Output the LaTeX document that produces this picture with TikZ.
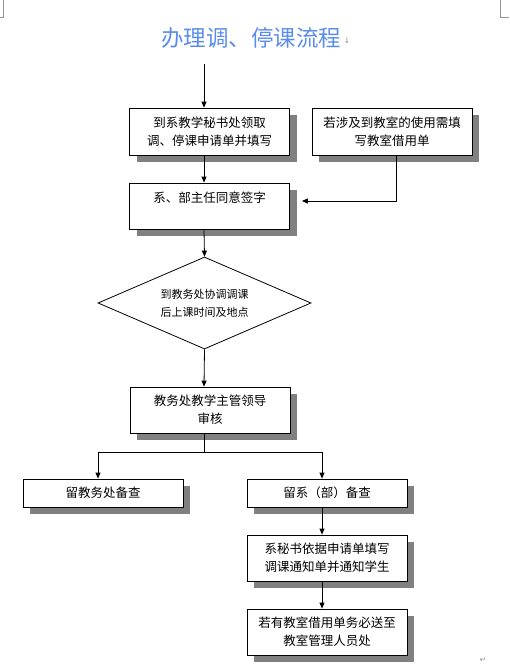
\documentclass[tikz,border=0pt]{standalone}
\usepackage{fontspec}
\setmainfont{Noto Sans CJK SC}
\newfontfamily\markfont{DejaVu Sans}
\usetikzlibrary{shapes.geometric,arrows.meta,shadows}
\definecolor{titleblue}{RGB}{90,140,235}
\definecolor{markgray}{RGB}{150,150,150}
\begin{document}
\begin{tikzpicture}[x=1pt,y=-1pt,line width=0.8pt,
  box/.style={draw,fill=white,minimum width=160pt,minimum height=47pt,align=center,inner sep=2pt,
    font=\fontsize{12.5}{18}\selectfont,
    drop shadow={shadow xshift=7pt,shadow yshift=-7pt,fill=black!50,opacity=1}},
  flatbox/.style={box,minimum height=28pt},
  arr/.style={-{Triangle[length=6pt,width=5pt]}}]
  \useasboundingbox (0,0) rectangle (509,672);
  \draw[markgray,line width=0.6pt] (3,0) -- (3,17) -- (0,17);
  \draw[markgray,line width=0.6pt] (500,0) -- (500,17) -- (509,17);
  \node[text=titleblue,font=\fontsize{22.5}{26}\selectfont] (title) at (251,38) {办理调、停课流程};
  \node[text=markgray,font=\markfont\fontsize{8}{9}\selectfont] (titlemark) at (347,41) {↓};
  \coordinate (start) at (204,64);
  \node[box] (fetch) at (209.5,131.5) {到系教学秘书处领取\\调、停课申请单并填写};
  \node[box] (room) at (392,131.5) {若涉及到教室的使用需填\\写教室借用单};
  \node[box,minimum height=46pt] (sign) at (209.5,206) {系、部主任同意签字\\\mbox{}};
  \node[diamond,draw,aspect=2.3,minimum width=213pt,minimum height=92pt,inner sep=0pt,align=center,
    font=\fontsize{11}{18}\selectfont] (coord) at (204.5,303) {到教务处协调调课\\后上课时间及地点};
  \node[box,minimum height=46pt] (check) at (210,410) {教务处教学主管领导\\审核};
  \coordinate (fork) at (204,452);
  \node[flatbox] (keepoffice) at (103,493) {留教务处备查};
  \node[flatbox] (keepdept) at (327,493) {留系（部）备查};
  \node[box,minimum height=46pt] (notify) at (327,558) {系秘书依据申请单填写\\调课通知单并通知学生};
  \node[box,minimum height=46pt] (deliver) at (327,632) {若有教室借用单务必送至\\教室管理人员处};
  \node[text=markgray,font=\markfont\fontsize{8}{9}\selectfont] (endmark) at (483,660) {↵};
  \draw[arr] (start) -- (start |- fetch.north);
  \draw[arr] ([xshift=-5.5pt]fetch.south) -- ([xshift=-5.5pt]sign.north);
  \draw[arr] ([xshift=4pt]room.south) |- ([xshift=12pt,yshift=5pt]sign.east);
  \draw[arr] ([xshift=-5.5pt]sign.south) -- (coord.north);
  \draw[arr] (coord.south) -- ([xshift=-6pt]check.north);
  \draw ([xshift=-6pt]check.south) -- (fork);
  \draw[arr] (fork) -| ([xshift=-5pt]keepoffice.north);
  \draw[arr] (fork) -| ([xshift=-5pt]keepdept.north);
  \draw[arr] ([xshift=-5pt]keepdept.south) -- ([xshift=-5pt]notify.north);
  \draw[arr] ([xshift=-5pt]notify.south) -- ([xshift=-5pt]deliver.north);
\end{tikzpicture}
\end{document}
